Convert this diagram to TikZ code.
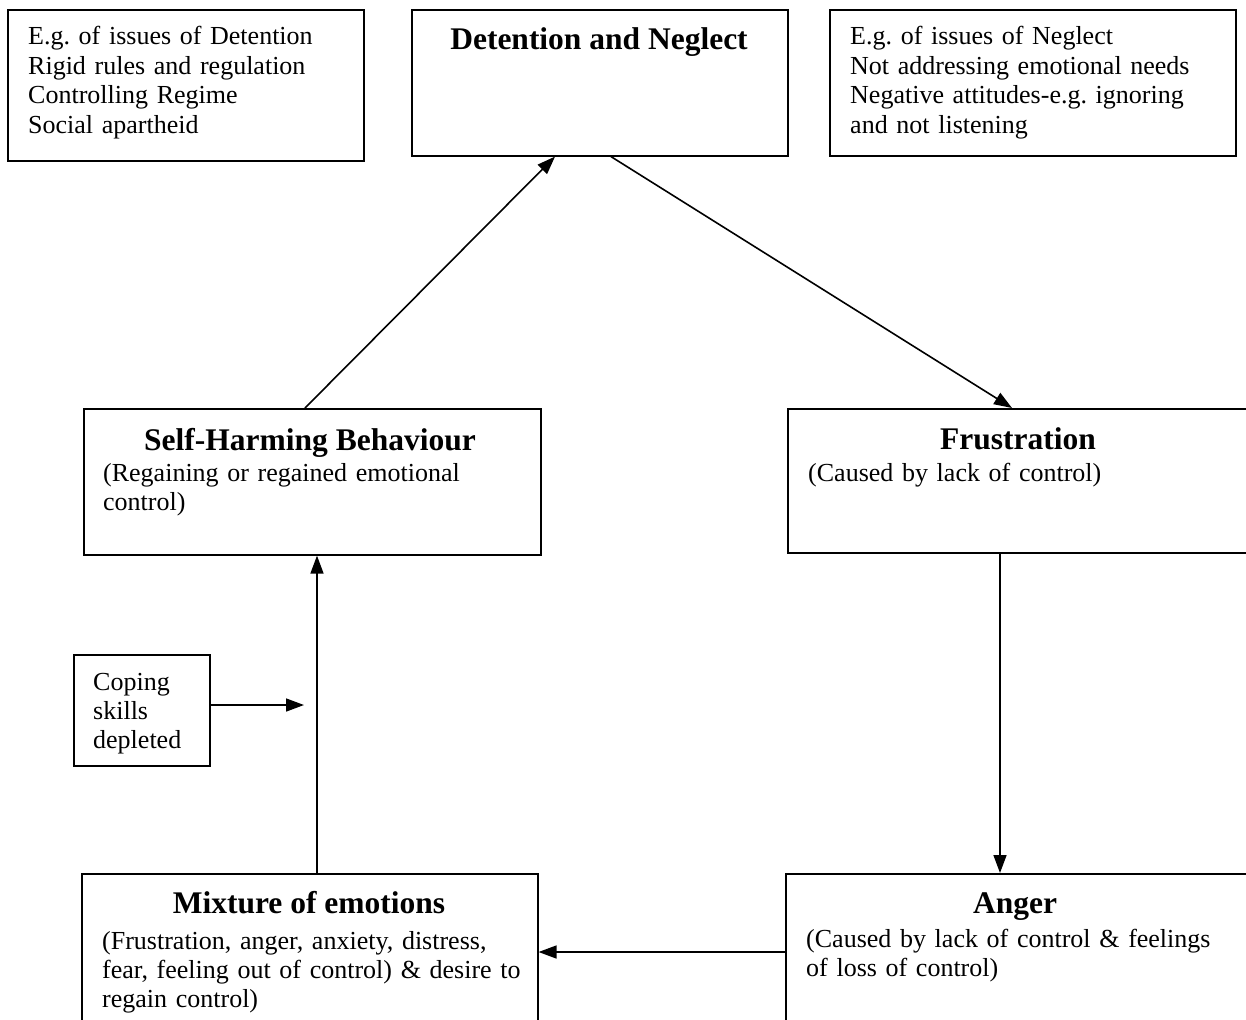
\documentclass[tikz,border=0pt]{standalone}
\usepackage{fontspec}
\setmainfont{Liberation Serif}
\usetikzlibrary{arrows.meta}
\frenchspacing
\begin{document}
\begin{tikzpicture}[x=1pt,y=-1pt,
  box/.style={draw,line width=1.6pt,rectangle,inner sep=0pt,anchor=north west},
  txt/.style={anchor=base west,inner sep=0pt,align=left,text width=480pt,font=\fontsize{26}{29.4}\selectfont\frenchspacing},
  ttl/.style={anchor=base,inner sep=0pt,font=\fontsize{31.5}{36}\selectfont\bfseries},
  arr/.style={line width=1.6pt,-{Triangle[length=18pt,width=13pt]}}]
\useasboundingbox (0,0) rectangle (1246,1019);
\clip (0,0) rectangle (1246,1019);
\fill[white] (0,0) rectangle (1246,1019);
% boxes
\node[box,minimum width=356pt,minimum height=151pt] (ba) at (7,9) {};
\node[box,minimum width=376pt,minimum height=146pt] (det) at (411,9) {};
\node[box,minimum width=406pt,minimum height=146pt] (bc) at (829,9) {};
\node[box,minimum width=457pt,minimum height=146pt] (sh) at (83,408) {};
\node[box,minimum width=465pt,minimum height=144pt] (fr) at (787,408) {};
\node[box,minimum width=136pt,minimum height=111pt] (cop) at (73,654) {};
\node[box,minimum width=456pt,minimum height=160pt] (mix) at (81,873) {};
\node[box,minimum width=465pt,minimum height=160pt] (ang) at (785,873) {};
% texts
\node[txt] (ta) at (28,45) {E.g. of issues of Detention\\Rigid rules and regulation\\Controlling Regime\\Social apartheid};
\node[ttl] (tdet) at (599,50) {Detention and Neglect};
\node[txt] (tc) at (850,45) {E.g. of issues of Neglect\\Not addressing emotional needs\\Negative attitudes-e.g. ignoring\\and not listening};
\node[ttl] (tsh) at (310,450) {Self-Harming Behaviour};
\node[txt] (tsh2) at (103,481) {(Regaining or regained emotional\\control)};
\node[ttl] (tfr) at (1018,449) {Frustration};
\node[txt] (tfr2) at (808,481) {(Caused by lack of control)};
\node[txt] (tcop) at (93,690) {Coping\\skills\\depleted};
\node[ttl] (tmix) at (309,913) {Mixture of emotions};
\node[txt] (tmix2) at (102,949) {(Frustration, anger, anxiety, distress,\\fear, feeling out of control) \& desire to\\regain control)};
\node[ttl] (tang) at (1015,913) {Anger};
\node[txt] (tang2) at (806,947) {(Caused by lack of control \& feelings\\of loss of control)};
% connectors
\coordinate (copend) at (304,705);
\draw[arr] ([xshift=222pt]sh.north west) -- ([xshift=144pt]det.south west);
\draw[arr] ([xshift=200pt]det.south west) -- ([xshift=225pt]fr.north west);
\draw[arr] ([xshift=213pt]fr.south west) -- ([xshift=215pt]ang.north west);
\draw[arr] ([yshift=-79pt]ang.north west) -- ([yshift=-79pt]mix.north east);
\draw[arr] ([xshift=236pt]mix.north west) -- ([xshift=234pt]sh.south west);
\draw[arr] (cop.east |- copend) -- (copend);
\end{tikzpicture}
\end{document}
